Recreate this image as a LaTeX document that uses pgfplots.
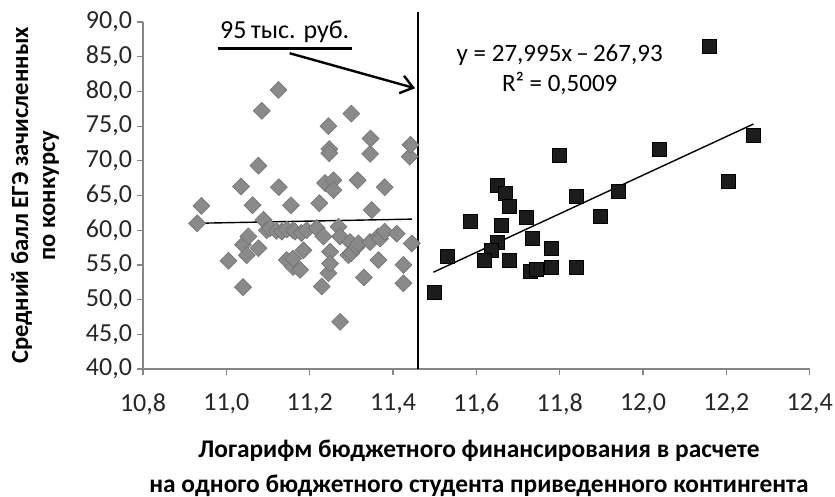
\documentclass[border=0pt]{standalone}
\usepackage{fontspec}
\setmainfont{Carlito}
\usepackage{pgfplots}
\pgfplotsset{compat=1.18}
\usetikzlibrary{calc,arrows.meta}

\definecolor{dgray}{RGB}{138,138,138}
\definecolor{dgrayedge}{RGB}{115,115,115}
\definecolor{sqblack}{RGB}{28,28,28}
\definecolor{axgray}{RGB}{134,134,134}

\pgfplotstableread{
x y
10.94 63.5
10.93 61.0
11.005 55.6
11.035 66.3
11.04 57.9
11.049 56.4
11.053 59.1
11.04 51.8
11.063 63.6
11.077 57.4
11.077 69.3
11.085 77.2
11.089 61.5
11.097 60.0
11.105 60.3
11.12 59.9
11.125 80.2
11.126 66.2
11.133 59.8
11.145 60.1
11.145 55.7
11.155 63.6
11.16 60.0
11.16 54.7
11.16 55.9
11.165 59.8
11.177 54.3
11.18 59.6
11.185 57.1
11.193 60.0
11.217 60.3
11.223 63.9
11.229 51.9
11.233 59.1
11.237 66.8
11.245 53.8
11.245 75.0
11.247 71.7
11.247 71.1
11.249 56.9
11.249 55.2
11.257 67.2
11.257 65.8
11.269 60.5
11.273 59.1
11.273 46.8
11.293 56.4
11.297 58.3
11.30 76.8
11.30 56.7
11.313 57.6
11.315 67.2
11.317 58.1
11.33 53.2
11.345 58.3
11.345 71.0
11.346 73.2
11.349 62.9
11.365 59.1
11.365 55.7
11.369 58.8
11.38 66.2
11.38 59.8
11.409 59.5
11.425 55.0
11.425 52.35
11.44 70.6
11.442 72.3
11.445 58.1
}\lowdata

\pgfplotstableread{
x y
11.498 51.0
11.53 56.3
11.585 61.3
11.65 66.5
11.67 65.3
11.68 63.4
11.72 61.9
11.66 60.7
11.65 58.3
11.637 57.1
11.62 55.6
11.68 55.6
11.735 58.8
11.78 57.4
11.73 54.1
11.745 54.4
11.78 54.7
11.84 54.7
11.84 64.9
11.80 70.8
11.898 62.0
11.94 65.6
12.04 71.65
12.16 86.5
12.265 73.7
12.205 67.0
}\highdata

\begin{document}
\begin{tikzpicture}
\begin{axis}[
  name=ax,
  scale only axis,
  width=333.3pt, height=173.5pt,
  xmin=10.8, xmax=12.4, ymin=40, ymax=90,
  xtick distance=0.2, ytick distance=5,
  axis x line*=bottom, axis y line*=left,
  axis line style={axgray, line width=0.6pt},
  tick style={axgray, line width=0.6pt},
  tick align=outside, major tick length=3pt,
  /pgf/number format/.cd, fixed, fixed zerofill, precision=1, use comma, assume math mode=true,
  /pgfplots/.cd,
  ticklabel style={font=\fontsize{13}{15}\selectfont, text=black!85},
  xticklabel style={yshift=-6pt},
  yticklabel style={xshift=1pt},
  xlabel={Логарифм бюджетного финансирования в расчете\\на одного бюджетного студента приведенного контингента},
  xlabel style={at={(axis description cs:0.504,-0.286)}, anchor=center, align=center,
    font=\bfseries\fontsize{12.7}{17.5}\selectfont},
  ylabel={Средний балл ЕГЭ зачисленных\\по конкурсу},
  ylabel style={at={(axis description cs:-0.162,0.5)}, anchor=center, align=center,
    font=\bfseries\fontsize{12.3}{13.5}\selectfont},
  clip=false,
]
\addplot[only marks, mark=square*, mark size=3.0pt,
  mark options={rotate=45, fill=dgray, draw=dgrayedge, line width=0.3pt}] table {\lowdata};
\addplot[only marks, mark=square*, mark size=3.5pt,
  mark options={fill=sqblack, draw=black, line width=0.3pt}] table {\highdata};
% trend lines
\addplot[black, line width=0.7pt] coordinates {(10.93,61.0) (11.445,61.6)};
\addplot[black, line width=0.7pt] coordinates {(11.497,53.95) (12.265,75.3)};
% threshold
\addplot[black, line width=1.2pt] coordinates {(11.46,40) (11.46,91.4)};

\node[font=\fontsize{13}{15}\selectfont, anchor=base] at (axis cs:11.14,87.6) {95\,тыс. руб.};
\draw[black, line width=1.2pt] (axis cs:10.98,86.2) -- (axis cs:11.302,86.2);
\draw[black, line width=1.2pt, -{Straight Barb[length=6pt,width=9pt]}]
  (axis cs:11.152,85.5) -- (axis cs:11.453,80.45);
\node[font=\fontsize{12.5}{14}\selectfont] at (axis cs:11.80,85.2) {y = 27,995x\,–\,267,93};
\node[font=\fontsize{12.5}{14}\selectfont] at (axis cs:11.80,81.1) {R² = 0,5009};
\end{axis}
\pgfresetboundingbox
\path ($(ax.south west)+(-71.5pt,-63.5pt)$) rectangle ($(ax.north east)+(12.65pt,11pt)$);
\end{tikzpicture}
\end{document}
